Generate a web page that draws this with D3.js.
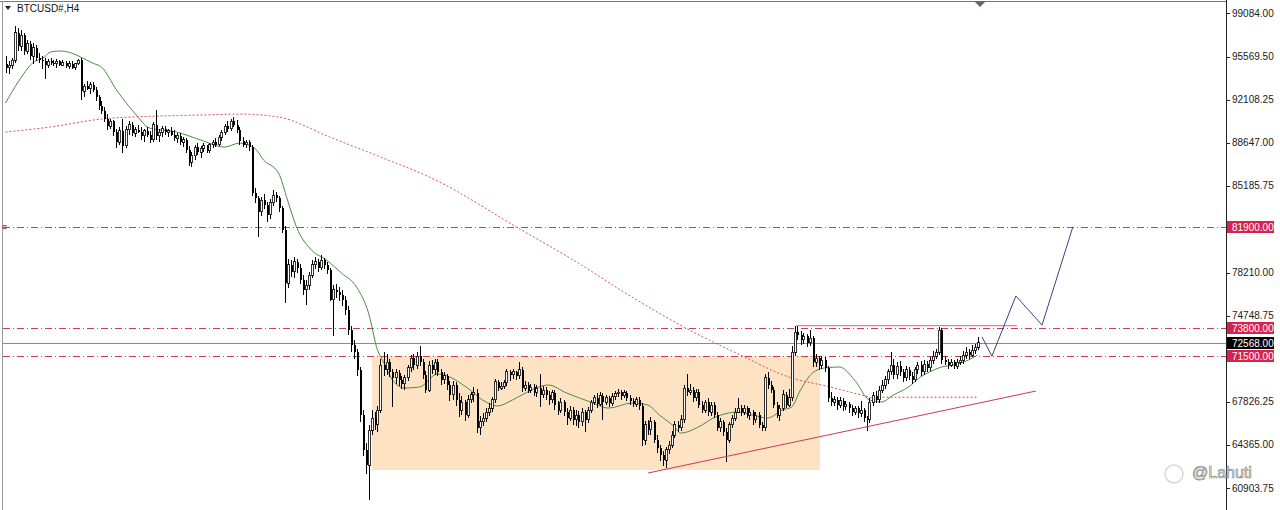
<!DOCTYPE html>
<meta charset="utf-8">
<style>
body { margin: 0; background: #fff; }
svg { display: block; font-family: "Liberation Sans", Arial, sans-serif; }
.axis text { font-size: 10px; fill: #1a1a1a; }
.tag text { font-size: 10px; fill: #fff; }
</style>
<script src="https://cdn.jsdelivr.net/npm/d3@7"></script>
<body>
<script>

// BTCUSD#, H4 candles: [open, high, low, close]
var candles = [
  [95000,95600,94300,94700],[94700,95200,94200,94900],[94900,95500,94600,95300],[95300,98000,95100,97500],
  [97500,97900,96000,96400],[96400,97700,96000,97300],[97300,97500,95700,96000],[96000,96900,95800,96600],
  [96600,96800,95300,95600],[95600,96700,95000,96300],[96300,96500,95200,95500],[95500,95900,95100,95300],
  [95300,95600,94600,95200],[95200,95500,93800,94900],[94900,95400,94700,95200],[95200,95500,94900,95100],
  [95100,95300,94800,95000],[95000,95400,94700,95200],[95200,95300,94800,94900],[94900,95300,94800,95100],
  [95100,95200,94700,94800],[94800,95200,94600,95000],[95000,95200,94600,94700],[94700,95100,94500,95000],
  [95000,95400,94900,95300],[95300,95500,92100,92800],
  [92800,93400,92300,93200],[93200,93600,92900,93000],[93000,93500,92600,93300],[93300,93500,92700,92900],
  [92900,93100,92000,92300],[92300,92500,91300,91600],[91600,92000,91000,91200],[91200,91500,90300,90600],
  [90600,91000,89700,90000],[90000,90600,89800,90400],[90400,90500,89200,89500],[89500,89800,88200,88700],
  [88700,89900,88500,89600],[89600,90600,87800,88400],[88400,90000,88200,89700],[89700,90400,89300,90100],
  [90100,90300,89200,89400],[89400,89900,89100,89700],[89700,90100,89400,89500],[89500,89900,88900,89200],
  [89200,89800,88700,89600],[89600,89900,89100,89300],[89300,89600,88600,88900],
  [88900,90300,88700,90100],[90100,91300,88900,89200],[89200,89800,88700,89500],[89500,90000,89100,89800],
  [89800,90000,89300,89500],[89500,89800,89100,89600],[89600,89900,89200,89300],[89300,89700,88800,89000],
  [89000,89400,88600,89200],[89200,89400,88500,88700],[88700,89100,88300,88900],[88900,89000,87800,88100],
  [88100,88400,86800,87100],[87100,87900,86700,87600],[87600,88500,87300,88300],[88300,88600,87700,87900],
  [87900,88400,87400,88200],[88200,88600,87900,88400],[88400,88500,87800,88000],[88000,88600,87800,88500],
  [88500,88900,88200,88700],[88700,89000,88300,88500],[88500,89300,88400,89100],[89100,89700,88800,89500],
  [89500,90200,89300,90000],[90000,90400,89500,89800],[89800,90600,89600,90400],[90400,90700,89900,90100],
  [90100,90500,89400,89700],[89700,89900,88500,88800],[88800,89100,88300,88500],[88500,88900,88200,88700],
  [88700,88900,88000,88300],
  [88300,88500,84400,84600],[84600,85000,83800,84200],[84200,84400,81100,83100],[83100,84300,82800,84050],
  [84050,84500,83300,83650],[83650,83900,82300,82850],[82850,84100,82500,83850],[83850,84850,83600,84450],
  [84450,84700,83900,84200],[84200,84400,83100,83400],[83400,83600,81400,81650],[81650,82000,75770,77380],
  [77380,79300,77000,78830],[78830,79200,77900,78270],[78270,79500,77800,79070],[79070,79300,78200,78590],
  [78590,78900,77300,77620],[77620,78000,76400,76820],[76820,77600,75600,77220],[77220,78300,76800,78020],
  [78020,79200,77800,78830],[78830,79500,78500,79070],[79070,79300,78300,78590],[78590,79600,78400,79230],
  [79230,79400,78500,78830],[78830,79100,78100,78430],[78430,78600,75900,76020],[76020,77200,73100,76820],
  [76820,77300,76200,76660],[76660,77100,75900,76420],[76420,76800,75500,76020],[76020,76300,74800,75210],
  [75210,75500,73200,73600],[73600,73900,71800,72400],[72400,72800,71300,71850],[71850,72100,69900,70390],
  [70390,70600,66200,66770],[66770,67200,63500,63960],[63960,64500,62000,62750],[62750,66000,59950,65560],
  [65560,67200,65200,66530],[66530,67000,65600,65970],[65970,67500,65400,67170],[67170,71300,66900,70790],
  [70790,71800,69900,70390],[70390,71700,70000,71030],[71030,71300,69800,70230],[70230,70500,67400,69750],
  [69750,70500,69300,70150],[70150,70400,69100,69590],[69590,69900,68900,69270],[69270,70000,68800,69750],
  [69750,70800,69500,70550],[70550,71600,70200,71350],[71350,71700,70400,70790],[70790,71800,70500,71510],
  [71510,72300,70700,71030],[71030,71300,69700,69990],[69990,70300,68500,68780],[68780,71100,68600,70790],
  [70790,71200,70100,70390],[70390,71300,70000,71030],[71030,71300,69900,70230],[70230,70500,69200,69590],
  [69590,70200,69300,69910],[69910,70100,68800,69180],[69180,69500,67900,68380],[68380,69500,68000,69180],
  [69180,69400,67500,67980],[67980,68500,66600,67170],[67170,68300,66800,67810],[67810,68000,66300,66770],
  [66770,68400,66500,67980],[67980,68600,67700,68380],[68380,69000,67800,68540],[68540,68900,65300,65730],
  [65730,66700,65200,66210],[66210,66900,65900,66530],[66530,67300,66200,67010],[67010,67700,66700,67330],
  [67330,68200,67000,67980],[67980,69700,67700,69430],[69430,69600,68700,68940],[68940,69400,68800,69100],
  [69100,69600,68900,69350],[69350,70500,69100,70230],[70230,70400,69500,69990],[69990,70500,69700,70230],
  [70230,70300,69600,69910],[69910,71000,69700,70390],[70390,70600,68600,68940],[68940,69500,68700,69180],
  [69180,69400,68500,68780],[68780,69300,68500,69020],[69020,69300,68300,68620],[68620,69200,68200,68940],
  [68940,70100,67400,68380],[68380,69100,68100,68780],[68780,69000,68000,68380],[68380,68700,67600,67980],
  [67980,68800,67700,68540],[68540,68800,67200,67570],[67570,67900,66800,67170],[67170,68100,66900,67810],
  [67810,68000,66700,67010],[67010,67300,66000,66530],[66530,67500,66300,67170],[67170,67400,66000,66370],
  [66370,67200,65900,66770],[66770,67100,65700,66210],[66210,67300,65900,67010],[67010,67200,65400,66370],
  [66370,67400,66100,67170],[67170,68000,66900,67810],[67810,68400,67600,68140],[68140,68500,67300,67650],
  [67650,68600,67500,68300],[68300,68500,66400,67810],[67810,68400,67600,68140],[68140,68300,67400,67730],
  [67730,68500,67500,68220],[68220,68700,68000,68460],[68460,68900,68200,68620],[68620,68800,68000,68300],
  [68300,68800,68100,68540],[68540,68700,67900,68140],[68140,68400,67600,67900],[67900,68100,67400,67650],
  [67650,68200,67400,67980],[67980,68200,67200,67490],[67490,67700,64300,64760],[64760,66300,64400,65970],
  [65970,66400,65200,65570],[65570,66600,65200,66210],[66210,66400,64500,64760],[64760,65200,63700,64120],
  [64120,64400,63100,63560],[63560,63900,62700,63150],[63150,64200,62500,63960],[63960,64700,63600,64360],
  [64360,65500,64100,65160],[65160,66300,64900,65970],[65970,66300,65400,65730],[65730,66800,65500,66370],
  [66370,69200,66100,68940],[68940,70100,68300,68620],[68620,69300,68400,68780],[68780,69000,67800,68140],
  [68140,68900,67900,68620],[68620,68900,67300,67570],[67570,67900,66900,67170],[67170,68000,66900,67810],
  [67810,68100,66700,67010],[67010,67800,66700,67570],[67570,67800,66500,66770],[66770,67000,65500,65730],
  [65730,66500,65400,66210],[66210,66400,65100,65410],[65410,65700,63000,64760],[64760,66200,64500,65970],
  [65970,66800,65700,66530],[66530,67300,66300,67010],[67010,68100,66900,67330],[67330,67600,66700,67010],
  [67010,67600,66800,67330],[67330,67500,66500,66770],[66770,67300,66400,67010],[67010,67200,66000,66370],
  [66370,67000,66100,66770],[66770,67000,65700,65970],[65970,66200,65500,65730],[65730,70100,65500,69750],
  [69750,70200,68900,69180],[69180,69500,68500,68780],[68780,69000,67300,67570],[67570,67800,66500,66770],
  [66770,67600,66300,67330],[67330,68800,67100,68380],[68380,68600,67300,67570],[67570,68900,67400,68140],
  [68140,72300,67900,71830],[71830,73900,71500,73440],[73440,73950,72800,73200],[73200,73500,72400,72800],
  [72800,73400,72500,73120],[73120,73300,72200,72560],[72560,73600,72300,72960],[72960,73100,70600,71030],
  [71030,71700,70600,71350],[71350,71500,70400,70790],[70790,71500,70500,71190],[71190,71400,70200,70550],
  [70550,70700,67800,68140],[68140,68600,67500,67810],[67810,68300,67500,67980],[67980,68200,67200,67570],
  [67570,68200,67300,67900],[67900,68100,67100,67490],[67490,67900,67200,67650],[67650,67800,66900,67330],
  [67330,67600,66700,67010],[67010,67500,66800,67330],[67330,67500,66500,66930],[66930,67900,66600,67170],
  [67170,67300,66200,66530],[66530,66700,65500,66370],[66370,68100,66100,67810],[67810,68600,67500,68300],
  [68300,68700,67700,67980],[67980,69100,67700,68780],[68780,69600,68500,69180],[69180,69900,68900,69590],
  [69590,70500,69300,70230],[70230,71800,70000,70790],[70790,71300,69700,69990],[69990,71000,69700,70710],
  [70710,71100,69900,70230],[70230,70500,69400,69750],[69750,70700,69500,70390],[70390,70600,69600,69910],
  [69910,70200,69300,69590],[69590,70600,69400,70390],[70390,71000,70100,70790],[70790,71100,69900,70230],
  [70230,71200,70000,70870],[70870,71100,70200,70550],[70550,71400,70300,71190],[71190,71900,70900,71510],
  [71510,72100,71300,71830],[71830,73840,71600,73600],[73600,73800,70900,71190],[71190,71500,70800,71030],
  [71030,71300,70500,70790],[70790,71300,70600,71030],[71030,71200,70500,70710],[70710,71300,70500,71030],
  [71030,71500,70800,71190],[71190,71900,70900,71590],[71590,72200,71300,71830],[71830,72100,71300,71590],
  [71590,72400,71400,71990],[71990,72500,71700,72230],[72230,73040,72000,72568]
];

// moving averages: [bar index, price]
var maFast = [
  [0,91850],[4,93460],[9,95060],[13,95550],[15,95950],[18,96030],[22,95870],[25,95550],[29,95060],
  [32,94740],[37,92900],[43,91050],[48,89840],[57,89520],[65,88880],[73,88310],[78,88630],[83,88230],
  [86,87270],[91,86220],[94,84050],[97,81880],[102,80030],[107,79230],[112,78180],[117,77060],[121,74970],
  [124,72000],[126,71030],[129,69590],[133,68940],[138,69020],[144,70070],[148,69830],[154,68940],
  [159,67980],[164,67500],[169,67980],[174,68620],[181,69180],[187,68540],[195,67820],[201,67330],
  [209,67740],[214,67580],[218,66770],[223,65810],[225,65320],[231,65810],[236,66530],[241,66930],
  [244,67010],[249,66770],[254,66530],[259,67170],[262,67410],[265,68780],[269,70150],[273,70550],
  [278,70630],[283,69590],[288,67980],[292,67820],[296,68380],[301,69020],[305,69830],[308,70230],
  [312,70630],[316,70790],[321,71190],[324,71590]
];
var maSlow = [
  [0,89520],[15,89920],[32,90560],[51,90800],[65,90880],[78,90960],[91,90720],[108,89120],[125,87510],
  [142,85820],[172,81640],[192,78830],[205,76820],[228,73600],[245,71590],[261,69830],[275,69020],
  [291,68000]
];
var maSlowTail = [[291,68200],[324,68200]];

var priceTicks = [99084, 95569.5, 92108.25, 88647, 85185.75, 78210, 74748.75, 67826.25, 64365, 60903.75];
var levels = [81900, 73800, 71500];
var bid = 72568;

// drawn objects: [bar index, price]
var rangeBox = [[122.2, 71500], [271.5, 62350]];
var supportLine = [[214.2, 62110], [343.5, 68700]];
var resistLine = [[263.5, 73950], [337.2, 73950]];
var projection = [[325.5, 73040], [328.8, 71500], [336.8, 76340], [345.5, 74000], [355.8, 81900]];

var width = 1280, height = 510, axisX = 1226;

var svg = d3.select("body").append("svg")
    .attr("width", width)
    .attr("height", height);

var x = d3.scaleLinear().domain([0, candles.length - 1]).range([5.5, 977.5]);
var y = d3.scaleLinear().domain([60903.75, 99084]).range([488, 13]);

var line = d3.line()
    .x(function(d) { return x(d[0]); })
    .y(function(d) { return y(d[1]); });
var smooth = d3.line()
    .x(function(d) { return x(d[0]); })
    .y(function(d) { return y(d[1]); })
    .curve(d3.curveMonotoneX);

// range box
svg.append("rect")
    .attr("x", x(rangeBox[0][0]))
    .attr("y", y(rangeBox[0][1]))
    .attr("width", x(rangeBox[1][0]) - x(rangeBox[0][0]))
    .attr("height", y(rangeBox[1][1]) - y(rangeBox[0][1]))
    .attr("fill", "#fde2c3");

// frame
svg.append("line").attr("x1", 0).attr("x2", axisX).attr("y1", 1.5).attr("y2", 1.5)
    .attr("stroke", "#777");
svg.append("line").attr("x1", 2.5).attr("x2", 2.5).attr("y1", 1).attr("y2", height)
    .attr("stroke", "#999");

// horizontal levels
svg.selectAll(".level")
  .data(levels)
  .enter().append("line")
    .attr("class", "level")
    .attr("x1", 3).attr("x2", axisX)
    .attr("y1", function(d) { return Math.round(y(d)) + 0.5; })
    .attr("y2", function(d) { return Math.round(y(d)) + 0.5; })
    .attr("stroke", "#c8405e")
    .attr("stroke-dasharray", "7,3,1,3");

svg.append("rect")
    .attr("x", 3).attr("y", Math.round(y(81900)) - 1.5)
    .attr("width", 3).attr("height", 3)
    .attr("fill", "none").attr("stroke", "#c8405e");

svg.append("line")
    .attr("x1", 3).attr("x2", axisX)
    .attr("y1", Math.round(y(bid)) + 0.5).attr("y2", Math.round(y(bid)) + 0.5)
    .attr("stroke", "#8a8a8a");

// moving averages
svg.append("path")
    .datum(maSlow)
    .attr("d", smooth)
    .attr("fill", "none")
    .attr("stroke", "#d4545c")
    .attr("stroke-dasharray", "2,2");
svg.append("path")
    .datum(maSlowTail)
    .attr("d", line)
    .attr("fill", "none")
    .attr("stroke", "#d4545c")
    .attr("stroke-dasharray", "2,2");

svg.append("path")
    .datum(maFast)
    .attr("d", smooth)
    .attr("fill", "none")
    .attr("stroke", "#4c8c46");

// candles
var bar = svg.append("g")
    .attr("shape-rendering", "crispEdges")
  .selectAll("g")
  .data(candles)
  .enter().append("g");

bar.append("line")
    .attr("x1", function(d, i) { return Math.round(x(i)) + 0.5; })
    .attr("x2", function(d, i) { return Math.round(x(i)) + 0.5; })
    .attr("y1", function(d) { return y(d[1]); })
    .attr("y2", function(d) { return y(d[2]); })
    .attr("stroke", "#000");

bar.append("rect")
    .attr("x", function(d, i) { return Math.round(x(i)) - (d[3] >= d[0] ? 0.5 : 0); })
    .attr("y", function(d) { return y(Math.max(d[0], d[3])); })
    .attr("width", 2)
    .attr("height", function(d) { return Math.max(1, Math.abs(y(d[0]) - y(d[3]))); })
    .attr("fill", function(d) { return d[3] >= d[0] ? "#fff" : "#000"; })
    .attr("stroke", function(d) { return d[3] >= d[0] ? "#000" : "none"; })
    .attr("stroke-width", 0.8);

// trend lines and projection
svg.append("path").datum(supportLine).attr("d", line)
    .attr("fill", "none").attr("stroke", "#cc3a55");
svg.append("path").datum(resistLine).attr("d", line)
    .attr("fill", "none").attr("stroke", "#e0607e");
svg.append("path").datum(projection).attr("d", line)
    .attr("fill", "none").attr("stroke", "#3b3f8e");

// price axis
svg.append("line").attr("x1", axisX + 0.5).attr("x2", axisX + 0.5)
    .attr("y1", 0).attr("y2", height).attr("stroke", "#222");

var axis = svg.append("g").attr("class", "axis");
axis.selectAll("line")
  .data(priceTicks)
  .enter().append("line")
    .attr("x1", axisX).attr("x2", axisX + 4)
    .attr("y1", function(d) { return Math.round(y(d)) + 0.5; })
    .attr("y2", function(d) { return Math.round(y(d)) + 0.5; })
    .attr("stroke", "#222");
axis.selectAll("text")
  .data(priceTicks)
  .enter().append("text")
    .attr("x", axisX + 6)
    .attr("y", function(d) { return y(d); })
    .attr("dy", "0.35em")
    .text(function(d) { return d3.format(".2f")(d); });

var tags = svg.selectAll(".tag")
  .data(levels.concat([bid]))
  .enter().append("g")
    .attr("class", "tag")
    .attr("transform", function(d) { return "translate(" + (axisX + 1) + "," + Math.round(y(d)) + ")"; });
tags.append("rect")
    .attr("x", 0).attr("y", -6)
    .attr("width", 47).attr("height", 12)
    .attr("fill", function(d) { return d === bid ? "#000" : "#d6234d"; });
tags.append("text")
    .attr("x", 5).attr("dy", "0.35em")
    .text(function(d) { return d3.format(".2f")(d); });

// title
svg.append("path").attr("d", "M5,6L11,6L8,10Z").attr("fill", "#222");
svg.append("text").attr("x", 17).attr("y", 12)
    .attr("font-size", 10).attr("fill", "#111")
    .text("BTCUSD#,H4");

// shift marker
svg.append("path").attr("d", "M974,1L986,1L980,7Z").attr("fill", "#5d6b6b");

// watermark
svg.append("circle").attr("cx", 1174).attr("cy", 474).attr("r", 9)
    .attr("fill", "none").attr("stroke", "#d8d8d8").attr("stroke-width", 1.5);
svg.append("text").attr("x", 1192).attr("y", 478)
    .attr("font-size", 16).attr("fill", "#eee")
    .attr("stroke", "#8c8c8c").attr("stroke-width", 0.7)
    .text("@Lahuti");

</script>
</body>
